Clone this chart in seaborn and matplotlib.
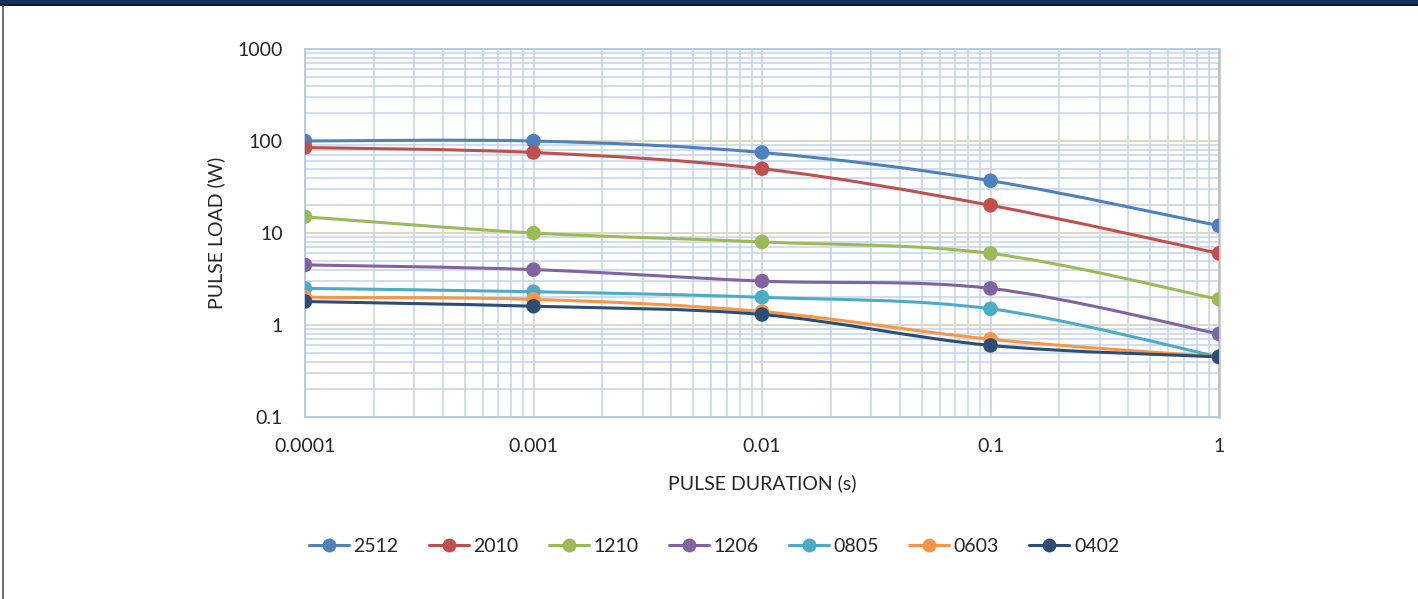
import numpy as np
import pandas as pd
import seaborn as sns
import matplotlib.pyplot as plt
from matplotlib.path import Path
from matplotlib.patches import PathPatch, Rectangle
from matplotlib.lines import Line2D
from matplotlib.ticker import LogLocator, NullFormatter

# data
duration = [0.0001, 0.001, 0.01, 0.1, 1]
s2512 = [100, 100, 75, 37, 12]
s2010 = [85, 75, 50, 20, 6]
s1210 = [15, 10, 8, 6, 1.9]
s1206 = [4.5, 4, 3, 2.5, 0.8]
s0805 = [2.5, 2.3, 2, 1.5, 0.45]
s0603 = [2, 1.9, 1.4, 0.7, 0.45]
s0402 = [1.8, 1.6, 1.3, 0.6, 0.45]

names = ['2512', '2010', '1210', '1206', '0805', '0603', '0402']
series = [s2512, s2010, s1210, s1206, s0805, s0603, s0402]
colors = ['#4F81BD', '#C0504D', '#9BBB59', '#8064A2', '#4BACC6', '#F79646', '#2C4D75']

xticks = [0.0001, 0.001, 0.01, 0.1, 1]
xticklabels = ['0.0001', '0.001', '0.01', '0.1', '1']
yticks = [0.1, 1, 10, 100, 1000]
yticklabels = ['0.1', '1', '10', '100', '1000']

rows = []
for n, vals in zip(names, series):
    for x, y in zip(duration, vals):
        rows.append({'duration': x, 'load': y, 'size': n})
df = pd.DataFrame(rows)

sns.set_theme(style='white')
plt.rcParams['font.family'] = ['Lato', 'DejaVu Sans']
FS = 14


def smooth_path(xs, ys):
    # excel-like smoothed line: bezier in log space
    lx = np.log10(xs)
    ly = np.log10(ys)
    n = len(lx)
    verts = [(lx[0], ly[0])]
    codes = [Path.MOVETO]
    for i in range(n - 1):
        p0 = (lx[max(i - 1, 0)], ly[max(i - 1, 0)])
        p1 = (lx[i], ly[i])
        p2 = (lx[i + 1], ly[i + 1])
        p3 = (lx[min(i + 2, n - 1)], ly[min(i + 2, n - 1)])
        c1 = (p1[0] + (p2[0] - p0[0]) / 6, p1[1] + (p2[1] - p0[1]) / 6)
        c2 = (p2[0] - (p3[0] - p1[0]) / 6, p2[1] - (p3[1] - p1[1]) / 6)
        verts += [c1, c2, p2]
        codes += [Path.CURVE4] * 3
    verts = [(10 ** a, 10 ** b) for a, b in verts]
    return Path(verts, codes)


fig = plt.figure(figsize=(14.18, 5.99), dpi=100)
ax = fig.add_axes([305 / 1418, (599 - 417) / 599, (1219 - 305) / 1418, (417 - 49) / 599])
ax.set_xscale('log')
ax.set_yscale('log')
ax.set_xlim(0.0001, 1)
ax.set_ylim(0.1, 1000)

# grid
ax.xaxis.set_minor_locator(LogLocator(base=10, subs=np.arange(2, 10)))
ax.yaxis.set_minor_locator(LogLocator(base=10, subs=np.arange(2, 10)))
ax.xaxis.set_minor_formatter(NullFormatter())
ax.yaxis.set_minor_formatter(NullFormatter())
ax.grid(which='minor', axis='both', color='#C3D4EA', linewidth=1.1)
ax.grid(which='major', axis='x', color='#D9D9D9', linewidth=1.4)
ax.grid(which='major', axis='y', color='#DDD9C3', linewidth=1.4)
ax.set_axisbelow(True)

for side in ['left', 'top', 'bottom']:
    ax.spines[side].set_color('#B7CBE5')
    ax.spines[side].set_linewidth(1.4)
ax.spines['right'].set_color('#BFBFBF')
ax.spines['right'].set_linewidth(1.8)

for vals, c in zip(series, colors):
    ax.add_patch(PathPatch(smooth_path(duration, vals), fill=False, edgecolor=c,
                           linewidth=2.2, zorder=3, capstyle='round'))

sns.scatterplot(data=df, x='duration', y='load', hue='size', hue_order=names,
                palette=colors, s=110, edgecolor='none', legend=False, zorder=4, ax=ax)

ax.set_xticks(xticks, xticklabels)
ax.set_yticks(yticks, yticklabels)
ax.tick_params(axis='both', which='both', length=0, labelsize=FS, colors='#262626')
ax.tick_params(axis='x', pad=15)
ax.tick_params(axis='y', pad=16)

ax.set_xlabel('PULSE DURATION (s)', fontsize=FS, color='#262626', labelpad=14)
ax.set_ylabel('PULSE LOAD (W)', fontsize=FS, color='#262626', labelpad=9)

handles = [Line2D([0], [0], color=c, linewidth=2.2, marker='o', markersize=10,
                  markeredgewidth=0) for c in colors]
fig.legend(handles, names, loc='center', bbox_to_anchor=(714 / 1418, (599 - 546) / 599),
           ncol=7, frameon=False, fontsize=FS, handlelength=2.05, handletextpad=0.25,
           columnspacing=1.55, labelcolor='#262626')

# frame bits from the original screenshot
fig.patches.append(Rectangle((0, 1 - 4 / 599), 1, 4 / 599, transform=fig.transFigure,
                             facecolor='#0E3262', edgecolor='none'))
fig.patches.append(Rectangle((0, 1 - 6 / 599), 1, 2 / 599, transform=fig.transFigure,
                             facecolor='#1a1a1a', edgecolor='none'))
fig.add_artist(Line2D([2.5 / 1418, 2.5 / 1418], [0, 1 - 6 / 599], transform=fig.transFigure,
                      color='#555555', linewidth=1.2))

fig.savefig('out.png', dpi=100)
